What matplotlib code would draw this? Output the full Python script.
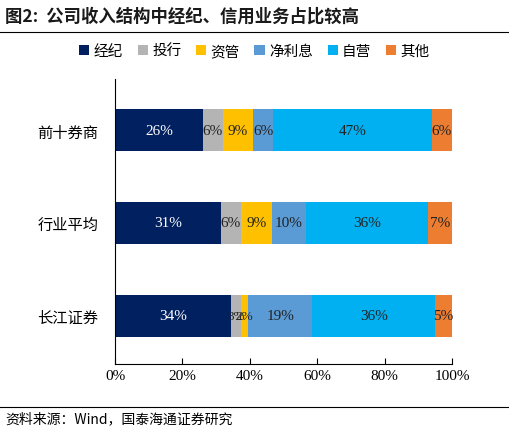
import matplotlib
matplotlib.use("Agg")
import matplotlib.pyplot as plt
import numpy as np

plt.rcParams['font.family'] = ['Noto Sans CJK SC', 'DejaVu Sans']

categories = ['前十券商', '行业平均', '长江证券']
series = ['经纪', '投行', '资管', '净利息', '自营', '其他']
values = {
    '经纪': [26, 31, 34],
    '投行': [6, 6, 3],
    '资管': [9, 9, 2],
    '净利息': [6, 10, 19],
    '自营': [47, 36, 36],
    '其他': [6, 7, 5],
}
colors = ['#002060', '#B4B4B4', '#FFC000', '#5B9BD5', '#00B0F0', '#ED7D31']
text_colors = ['white', '#222222', '#222222', '#222222', '#222222', '#222222']

totals = np.sum([values[s] for s in series], axis=0).astype(float)

fig = plt.figure(figsize=(5.09, 4.35), dpi=100)
ax = fig.add_axes([0.226, 0.161, 0.662, 0.655])
y = np.arange(len(categories))
left = np.zeros(len(categories))
for s, c, tc in zip(series, colors, text_colors):
    raw = np.array(values[s], dtype=float)
    v = raw / totals * 100
    ax.barh(y, v, left=left, color=c, height=0.45, label=s)
    for yi, (l, w, r) in enumerate(zip(left, v, raw)):
        ax.text(l + w / 2, yi, f'{int(r)}%', ha='center', va='center', color=tc,
                fontsize=11 if r >= 4 else 9.5, family='Liberation Serif')
    left += v

ax.set_ylim(2.52, -0.55)
ax.set_xlim(0, 100)
ax.set_yticks(y)
ax.set_yticklabels(categories, fontsize=11)
ax.set_xticks(np.arange(0, 101, 20))
ax.set_xticklabels([f'{t}%' for t in range(0, 101, 20)], family='Liberation Serif', fontsize=11)
for sp in ['top', 'right']:
    ax.spines[sp].set_visible(False)
ax.tick_params(axis='y', length=0, pad=12)
ax.tick_params(axis='x', direction='in', length=4)

ax.legend(loc='center', bbox_to_anchor=(0.5, 0.88), bbox_transform=fig.transFigure,
          ncol=6, frameon=False, fontsize=10.5, handlelength=0.7, handleheight=0.7,
          columnspacing=1.0, handletextpad=0.3)

fig.text(0.01, 0.962, '图2:  公司收入结构中经纪、信用业务占比较高', fontsize=12.5,
         fontweight='bold', va='center', color='#1a1a1a')
fig.add_artist(plt.Line2D([0.0, 1.0], [0.925, 0.925], color='black', lw=0.8))
fig.add_artist(plt.Line2D([0.0, 1.0], [0.062, 0.062], color='black', lw=0.8))
fig.text(0.01, 0.036, '资料来源：Wind，国泰海通证券研究', fontsize=10, va='center',
         family=['Noto Sans CJK SC', 'Liberation Serif'])
fig.savefig('out.png', dpi=100)
